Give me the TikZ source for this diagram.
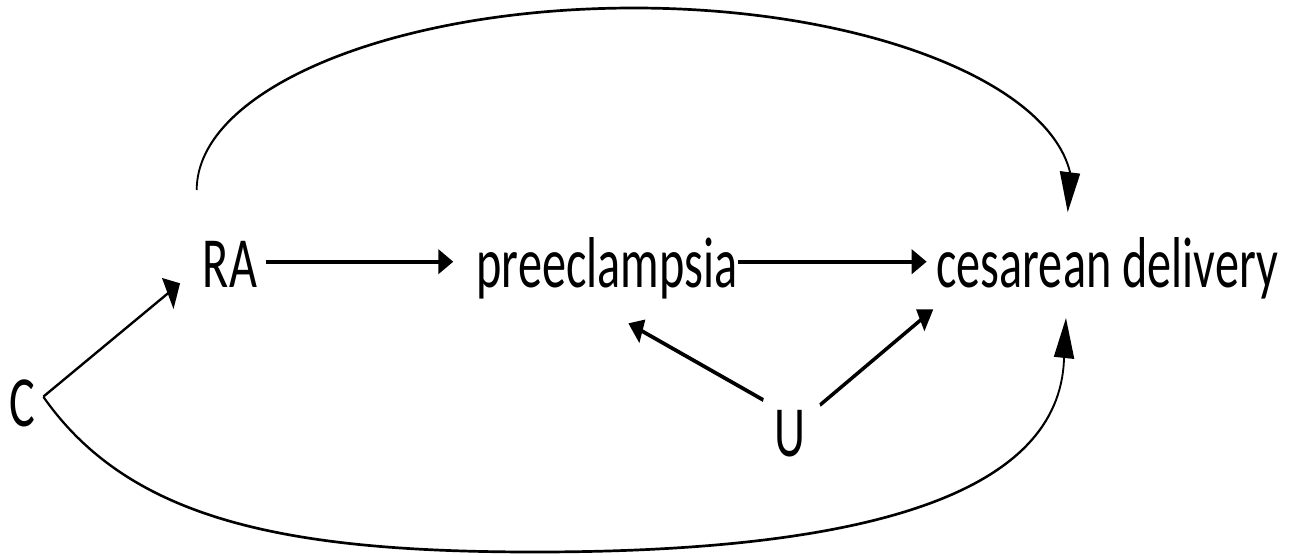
\documentclass[tikz,border=0pt]{standalone}
\usepackage{fontspec}
\setmainfont{Carlito}
\usetikzlibrary{arrows.meta}
\tikzset{
  lbl/.style={inner sep=0pt, anchor=base, font=\fontsize{72}{86}\selectfont},
  mainarrow/.style={line width=4pt, -{Triangle[length=22.4pt,width=24pt]}},
  thinarrow/.style={line width=2.7pt, -{Triangle[length=21pt,width=35pt]}},
  curvearrow/.style={line width=2.7pt, -{Triangle[length=40pt,width=30pt]}},
}
\begin{document}
\begin{tikzpicture}[x=1pt,y=1pt]
\useasboundingbox (0,0) rectangle (1298,-555);
% everything is drawn wide and then narrowed horizontally
\begin{scope}[transform canvas={xscale=0.67}]
  % variables
  \node[lbl] (ra) at (343.3,-287) {RA};
  \node[lbl] (pe) at (906,-287) {preeclampsia};
  \node[lbl] (cd) at (1652.5,-287) {cesarean delivery};
  \node[lbl] (c)  at (33.6,-426) {C};
  \node[lbl] (u)  at (1179,-456) {U};

  % end points of the connectors
  \coordinate (cp) at ([shift={(31,29.3)}]c.base);
  \coordinate (ts) at ([shift={(-49.7,97)}]ra.base);
  \coordinate (tp) at ([shift={(40.3,279)}]pe.base);
  \coordinate (tb) at ([shift={(-55.5,115)}]cd.base);
  \coordinate (te) at ([shift={(-58.9,74.8)}]cd.base);
  \coordinate (bm) at ([shift={(-107.5,-265)}]pe.base);
  \coordinate (bb) at ([shift={(-64.5,-73)}]cd.base);
  \coordinate (be) at ([shift={(-61.5,-31)}]cd.base);

  % main path
  \draw[mainarrow] ([shift={(53.7,25.3)}]ra.base) -- ([shift={(-229.4,25.3)}]pe.base);
  \draw[mainarrow] ([shift={(195.9,25.3)}]pe.base) -- ([shift={(-269.4,25.3)}]cd.base);

  % unmeasured confounder
  \draw[mainarrow] ([shift={(-39.7,56)}]u.base) -- ([shift={(31.8,-36.3)}]pe.base);
  \draw[mainarrow] ([shift={(44.9,51)}]u.base) -- ([shift={(-259.5,-22.3)}]cd.base);

  % confounders C
  \draw[thinarrow] (cp) -- ([shift={(-74.6,3.7)}]ra.base);
  \draw[curvearrow] (cp) .. controls +(128.7,-123.3) and +(-373.1,0) .. (bm)
                         .. controls +(511.5,0) and +(-8,-130) .. (bb) -- (be);

  % direct effect of RA
  \draw[curvearrow] (ts) .. controls +(0,100.5) and +(-360.2,0) .. (tp)
                         .. controls +(334,0) and +(-34.8,92.7) .. (tb) -- (te);
\end{scope}
\end{tikzpicture}
\end{document}
